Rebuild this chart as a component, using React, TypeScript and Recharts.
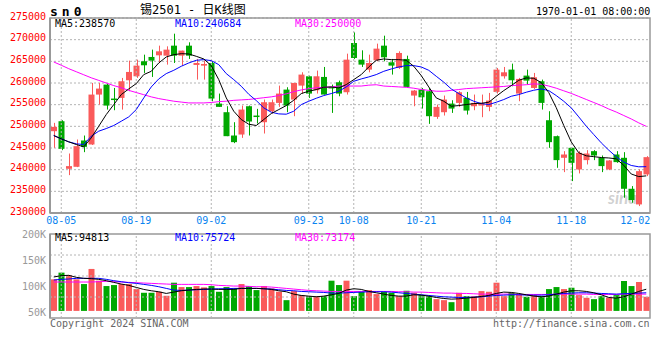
import {
  ComposedChart, Bar, Line, XAxis, YAxis, CartesianGrid, ReferenceLine, ReferenceArea, Cell,
} from "recharts";

// trading days 2024-08-02 .. 2024-12-02
const DATES = [
  "08-02", "08-05", "08-06", "08-07", "08-08", "08-09", "08-12", "08-13", "08-14", "08-15",
  "08-16", "08-19", "08-20", "08-21", "08-22", "08-23", "08-26", "08-27", "08-28", "08-29",
  "08-30", "09-02", "09-03", "09-04", "09-05", "09-06", "09-09", "09-10", "09-11", "09-12",
  "09-13", "09-18", "09-19", "09-20", "09-23", "09-24", "09-25", "09-26", "09-27", "09-30",
  "10-08", "10-09", "10-10", "10-11", "10-14", "10-15", "10-16", "10-17", "10-18", "10-21",
  "10-22", "10-23", "10-24", "10-25", "10-28", "10-29", "10-30", "10-31", "11-01", "11-04",
  "11-05", "11-06", "11-07", "11-08", "11-11", "11-12", "11-13", "11-14", "11-15", "11-18",
  "11-19", "11-20", "11-21", "11-22", "11-25", "11-26", "11-27", "11-28", "11-29", "12-02",
];

const OPEN = [
  248880, 251180, 240200, 240660, 246730, 245810, 257330, 259630, 256410, 256560,
  260630, 261550, 265010, 266010, 266390, 266310, 268620, 266310, 268620, 264160,
  264010, 264620, 255250, 253260, 247880, 248110, 254640, 252490, 250950, 253490,
  255410, 258480, 256180, 259400, 261550, 258330, 261400, 259090, 260170, 257870,
  269230, 265390, 263090, 265240, 268620, 264780, 263470, 265550, 257100, 258480,
  258100, 252180, 253260, 255250, 255410, 256560, 254640, 254790, 254490, 257940,
  261550, 263090, 257560, 261710, 258860, 260400, 251410, 247730, 242740, 245040,
  240050, 242200, 244270, 242740, 240050, 243500, 242740, 235590, 231980, 238900,
];
const HIGH = [
  250800, 251410, 243730, 246960, 247880, 260020, 260020, 259790, 258860, 261170,
  265160, 265390, 266540, 267700, 268620, 268460, 271380, 267470, 269390, 265550,
  265160, 265010, 257560, 254640, 250950, 254790, 254790, 254030, 256180, 256180,
  259400, 259020, 260020, 262470, 261700, 262860, 263700, 259630, 260550, 266770,
  271690, 267540, 266540, 269080, 270920, 265550, 267310, 266310, 258400, 258860,
  258860, 255020, 257100, 256020, 258100, 257940, 257330, 257330, 257710, 263470,
  263700, 264470, 261170, 263090, 262320, 260780, 253490, 247880, 244270, 245040,
  244270, 244500, 244500, 243270, 242200, 244270, 244040, 236210, 240050, 243120,
];
const LOW = [
  245040, 244500, 238740, 240590, 244040, 245700, 255020, 253870, 253720, 253870,
  258100, 261170, 262320, 261400, 264620, 264240, 264620, 264010, 265550, 260780,
  260780, 255790, 254490, 247730, 246120, 247340, 247880, 250650, 248340, 252950,
  254490, 253260, 252340, 257560, 256560, 257560, 257330, 253100, 256940, 257330,
  265550, 263700, 262470, 265010, 265010, 261940, 263240, 258860, 254640, 254100,
  250570, 251720, 252490, 253100, 254490, 252720, 253720, 252110, 253490, 257560,
  261010, 259250, 255790, 259630, 258630, 253870, 245040, 240430, 239430, 237360,
  239130, 241200, 242200, 239430, 239890, 241580, 233520, 232370, 231600, 238510,
];
const CLOSE = [
  249880, 244810, 240820, 245420, 245270, 257330, 258710, 254790, 256250, 260400,
  262550, 264010, 264090, 265160, 267310, 267700, 266310, 267470, 266310, 264620,
  264390, 256410, 254490, 247730, 246350, 253870, 251110, 252180, 255560, 255560,
  257560, 254790, 260020, 261940, 257560, 261550, 257330, 258860, 257560, 265390,
  265780, 264240, 264620, 267930, 265930, 264010, 266930, 259090, 258250, 256710,
  252340, 254490, 256180, 254100, 257870, 253640, 255410, 255330, 255950, 263090,
  262470, 260630, 260940, 260550, 261320, 255410, 246350, 242200, 243500, 241580,
  243890, 243730, 243270, 240820, 242120, 241740, 235590, 232980, 239660, 242890,
];
const MA5 = [
  247880, 247110, 246420, 245810, 245270, 247340, 250030, 252720, 255020, 257330,
  258630, 259860, 261940, 262700, 264620, 266010, 266540, 266770, 266700, 266160,
  265550, 264010, 260780, 256560, 253490, 251570, 250490, 250190, 251570, 252950,
  253870, 254790, 256020, 257560, 258100, 258480, 259020, 259090, 258860, 259630,
  260780, 261940, 263700, 265240, 265550, 265390, 265390, 265240, 263860, 261710,
  259090, 256560, 255790, 254640, 254790, 255020, 255250, 255330, 255560, 256940,
  258250, 259400, 260630, 261170, 261090, 260100, 257800, 254300, 250200, 246400,
  243900, 243200, 243000, 242800, 242700, 242500, 241000, 239000, 238400, 238570,
];
const MA10 = [
  247880, 247110, 246420, 245960, 245810, 247730, 248880, 249490, 250190, 251180,
  252180, 253870, 256560, 259090, 260940, 262170, 262930, 263860, 264620, 265240,
  265390, 265160, 264240, 262170, 260780, 259250, 257400, 255950, 254260, 253260,
  252870, 252800, 253490, 255020, 255790, 256480, 257100, 257560, 258100, 259100,
  260400, 260940, 261400, 261940, 262700, 263240, 263700, 264010, 264010, 263700,
  262930, 261550, 260200, 258630, 257560, 256560, 255790, 255250, 255020, 255560,
  256180, 256940, 257330, 257870, 258330, 258630, 258250, 257100, 255790, 254260,
  252180, 250030, 248110, 246190, 244500, 242970, 241740, 240970, 240660, 240684,
];
const MA30 = [
  264850, 264100, 263300, 262600, 261900, 261200, 260600, 260000, 259400, 258900,
  258300, 257800, 257300, 256800, 256400, 256100, 255800, 255600, 255400, 255400,
  255400, 255500, 255700, 255800, 256000, 256100, 256200, 256400, 256600, 256800,
  257100, 257500, 258000, 258400, 258700, 258900, 259000, 259100, 259300, 259300,
  259300, 259300, 259500, 259600, 259300, 259200, 259100, 259000, 258800, 258500,
  258300, 258100, 258100, 258300, 258500, 258700, 258800, 258900, 259000, 259100,
  259200, 259400, 259500, 259600, 259800, 259700, 259300, 258800, 258200, 257600,
  256900, 256200, 255500, 254800, 254000, 253300, 252500, 251700, 250800, 250000,
];

const VOLUME = [
  113630, 126420, 121940, 113630, 104680, 133450, 111080, 100850, 102760, 104680,
  104680, 95090, 88060, 88060, 89980, 82310, 107240, 98930, 98930, 100850,
  98290, 100850, 89980, 98930, 96370, 104680, 100850, 93180, 100850, 96370,
  89980, 74000, 91260, 83590, 81670, 81670, 81670, 111080, 102760, 111080,
  81670, 89980, 93180, 85500, 89980, 88060, 81670, 91900, 88060, 83590,
  81670, 75910, 74000, 70160, 88060, 81670, 81670, 91260, 89980, 107240,
  81670, 88060, 85500, 80390, 83590, 81670, 95090, 98930, 95090, 97650,
  83590, 78470, 75910, 81670, 78470, 83590, 110440, 100850, 108520, 80390,
];
const VMA5 = [
  118110, 120670, 121300, 117470, 115550, 114910, 113630, 111080, 107880, 104680,
  102130, 98290, 94450, 91900, 89980, 86780, 89340, 91900, 93180, 94450,
  95090, 95090, 94450, 94450, 94450, 96370, 96370, 96370, 95730, 94450,
  91900, 89980, 85500, 82950, 81670, 80390, 81670, 84230, 86780, 93180,
  95730, 94450, 90620, 88060, 85500, 82950, 81670, 81670, 84230, 83590,
  81670, 79110, 77190, 75910, 76550, 77830, 79110, 81030, 82950, 86780,
  89340, 88700, 86780, 84230, 81670, 80390, 81670, 85500, 89340, 91900,
  91900, 90620, 88060, 84230, 79110, 77830, 80390, 85500, 90620, 94813,
];
const VMA10 = [
  112350, 113630, 114270, 115550, 115550, 115550, 115550, 113630, 111080, 109160,
  107240, 105960, 104040, 102130, 99570, 96370, 93180, 92540, 93180, 93820,
  94450, 95090, 95730, 95730, 96370, 96370, 96370, 96370, 95730, 95090,
  93820, 92540, 91900, 90620, 89980, 89340, 88700, 87420, 87420, 88060,
  88700, 89340, 89980, 89980, 89980, 89340, 88060, 86780, 85500, 84230,
  82950, 81670, 80390, 79750, 79110, 79110, 79750, 80390, 81670, 82950,
  83590, 84230, 84230, 83590, 83590, 83590, 84230, 85500, 86780, 87420,
  88060, 88060, 87420, 86780, 86140, 85500, 86140, 86780, 87420, 88060,
];
const VMA30 = [
  108520, 108520, 108520, 108520, 108520, 108520, 109160, 109800, 109160, 108520,
  107880, 107240, 106600, 105960, 105320, 104680, 104040, 104040, 104040, 104040,
  104040, 103400, 102130, 101490, 100850, 100850, 100210, 99570, 99570, 98930,
  97650, 96370, 95090, 93820, 92540, 91900, 91260, 90620, 90620, 90620,
  90620, 90620, 90620, 90620, 90620, 90620, 89980, 89980, 89340, 89340,
  88700, 88060, 87420, 87420, 86780, 86780, 86140, 85500, 85500, 85500,
  85500, 85500, 84870, 84870, 84870, 84870, 84870, 85500, 85500, 85500,
  85500, 85500, 84870, 84870, 84870, 84870, 85500, 85500, 85500, 85500,
];

const DATE_TICKS = ["08-05", "08-19", "09-02", "09-23", "10-08", "10-21", "11-04", "11-18", "12-02"];
const PRICE_TICKS = [230000, 235000, 240000, 245000, 250000, 255000, 260000, 265000, 270000, 275000];
const VOL_TICKS = [50000, 100000, 150000, 200000];
const VOL_GRID = [80000, 120000, 160000];
const VOL_BASE = 53500;

const UP = "#fa5a5a";
const DOWN = "#00a800";
const FRAME = "#999";
const GRID = "#b4b4b4";
const MONO = '"DejaVu Sans Mono", "Liberation Mono", monospace';

const priceData = DATES.map((date, i) => ({
  date, open: OPEN[i], high: HIGH[i], low: LOW[i], close: CLOSE[i],
  ma5: MA5[i], ma10: MA10[i], ma30: MA30[i],
}));

const volData = DATES.map((date, i) => ({
  date, vol: VOLUME[i], up: CLOSE[i] > OPEN[i],
  ma5: VMA5[i], ma10: VMA10[i], ma30: VMA30[i],
}));

function Candle(props: any) {
  const { x, y, width, height, payload } = props;
  const { open, close, high, low } = payload;
  const span = high - low || 1;
  const yOf = (v: number) => y + ((high - v) / span) * height;
  const top = yOf(Math.max(open, close));
  const bottom = yOf(Math.min(open, close));
  const color = close > open ? UP : DOWN;
  const cx = Math.round(x + width / 2) + 0.5;
  return (
    <g>
      <line x1={cx} x2={cx} y1={y} y2={y + height} stroke={color} strokeWidth={1} />
      <rect x={x} y={top} width={width} height={Math.max(bottom - top, 1.5)} fill={color} />
    </g>
  );
}

function PriceTick({ x, y, payload }: any) {
  return (
    <text x={x} y={y} dy={-2} textAnchor="end" dominantBaseline="central"
      fill="#ff0000" fontSize={10} fontFamily={MONO}>
      {payload.value}
    </text>
  );
}

function VolTick({ x, y, payload }: any) {
  return (
    <text x={x} y={y} textAnchor="end" dominantBaseline="central"
      fill="#999" fontSize={10} fontFamily={MONO}>
      {payload.value / 1000}K
    </text>
  );
}

function DateTick({ x, y, payload }: any) {
  const last = payload.value === DATE_TICKS[DATE_TICKS.length - 1];
  return (
    <text x={x} y={y} dx={last ? 4 : 0} textAnchor={last ? "end" : "middle"} dominantBaseline="central"
      fill="#0a84f0" fontSize={10} fontFamily={MONO}>
      {payload.value}
    </text>
  );
}

const label = (left: number, top: number, color: string, extra: any = {}) => ({
  position: "absolute" as const, left, top, color, fontFamily: MONO, fontSize: 10,
  lineHeight: "12px", whiteSpace: "pre" as const, ...extra,
});

export default function App() {
  return (
    <div style={{ position: "absolute", left: 0, top: 0, width: 660, height: 360, background: "#fff", overflow: "hidden" }}>
      <div style={{ ...label(608, 192, "rgba(170,170,170,0.55)"), fontSize: 17, fontWeight: 700, fontStyle: "italic", fontFamily: "Lato, sans-serif" }}>sina</div>

      <div style={{ position: "absolute", left: 0, top: 0 }}>
        <ComposedChart width={660} height={232} data={priceData} margin={{ top: 18, right: 10, bottom: 0, left: 0 }}>
          <CartesianGrid vertical={false} stroke={GRID} strokeDasharray="2 2" />
          {DATE_TICKS.slice(0, -1).map((d) => (
            <ReferenceLine key={d} x={d} stroke={GRID} strokeDasharray="2 2" />
          ))}
          <XAxis dataKey="date" ticks={DATE_TICKS} interval={0} tick={<DateTick />} tickLine={false}
            tickSize={0} tickMargin={7} height={19} axisLine={{ stroke: FRAME, strokeWidth: 2 }} />
          <YAxis domain={[230000, 275000]} ticks={PRICE_TICKS} interval={0} tick={<PriceTick />} tickLine={false}
            tickSize={0} tickMargin={4} width={50} axisLine={{ stroke: FRAME, strokeWidth: 2 }} allowDataOverflow />
          <ReferenceArea y1={230000} y2={275000} fill="none" fillOpacity={0} stroke={FRAME} strokeWidth={1.5} />
          <Bar dataKey={(d: any) => [d.low, d.high]} barSize={6} shape={<Candle />} isAnimationActive={false} />
          <Line type="linear" dataKey="ma30" stroke="#ff00ff" strokeWidth={1} dot={false} isAnimationActive={false} />
          <Line type="linear" dataKey="ma10" stroke="#0000ff" strokeWidth={1} dot={false} isAnimationActive={false} />
          <Line type="linear" dataKey="ma5" stroke="#000000" strokeWidth={1} dot={false} isAnimationActive={false} />
        </ComposedChart>
      </div>

      <div style={{ position: "absolute", left: 0, top: 220 }}>
        <ComposedChart width={660} height={100} data={volData} margin={{ top: 14, right: 10, bottom: 2, left: 0 }}>
          {VOL_GRID.map((v) => (
            <ReferenceLine key={v} y={v} stroke={GRID} strokeDasharray="2 2" />
          ))}
          {DATE_TICKS.slice(0, -1).map((d) => (
            <ReferenceLine key={d} x={d} stroke={GRID} strokeDasharray="2 2" />
          ))}
          <XAxis dataKey="date" hide />
          <YAxis domain={[40000, 200000]} ticks={VOL_TICKS} interval={0} tick={<VolTick />} tickLine={false}
            tickSize={0} tickMargin={4} width={50} axisLine={{ stroke: FRAME, strokeWidth: 2 }} allowDataOverflow />
          <ReferenceArea y1={40000} y2={200000} fill="none" fillOpacity={0} stroke={FRAME} strokeWidth={1.5} />
          <Bar dataKey={(d: any) => [VOL_BASE, d.vol]} barSize={6} isAnimationActive={false}>
            {volData.map((d, i) => (
              <Cell key={i} fill={d.up ? UP : DOWN} />
            ))}
          </Bar>
          <Line type="linear" dataKey="ma30" stroke="#ff00ff" strokeWidth={1} dot={false} isAnimationActive={false} />
          <Line type="linear" dataKey="ma10" stroke="#0000ff" strokeWidth={1} dot={false} isAnimationActive={false} />
          <Line type="linear" dataKey="ma5" stroke="#000000" strokeWidth={1} dot={false} isAnimationActive={false} />
        </ComposedChart>
      </div>

      <div style={{ ...label(50, 5, "#000"), fontSize: 13, fontWeight: 700, letterSpacing: 4, lineHeight: "14px" }}>sn0</div>
      <div style={{ ...label(140, 3, "#000"), fontSize: 12, lineHeight: "14px", fontFamily: `${MONO}, "Noto Sans CJK SC"` }}>锡2501 - 日K线图</div>
      <div style={label(536, 6, "#000")}>1970-01-01 08:00:00</div>

      <div style={label(55, 18, "#000")}>MA5:238570</div>
      <div style={label(175, 18, "#0000ff")}>MA10:240684</div>
      <div style={label(295, 18, "#ff00ff")}>MA30:250000</div>

      <div style={label(55, 232, "#000")}>MA5:94813</div>
      <div style={label(175, 232, "#0000ff")}>MA10:75724</div>
      <div style={label(295, 232, "#ff00ff")}>MA30:73174</div>

      <div style={label(50, 318, "#666")}>Copyright 2024 SINA.COM</div>
      <div style={label(493, 318, "#666")}>http://finance.sina.com.cn</div>
    </div>
  );
}
